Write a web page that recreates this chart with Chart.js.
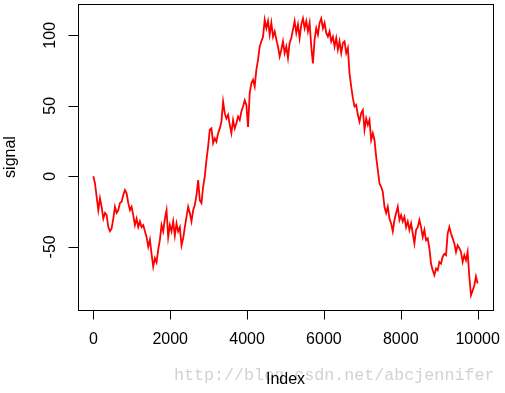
<!DOCTYPE html>
<html>
<head>
  <title>signal</title>
  <script src="https://cdn.jsdelivr.net/npm/chart.js"></script>
  <style>
    body{
        margin:0px;
        padding:0px;
        background-color:white;
    }
    #chart{
        display:block;
    }
  </style>
</head>
<body>
<canvas id="chart" width="505" height="393"></canvas>
<script>
    // values, one sample roughly every 43 index steps (0 .. 10000)
    var signal = [
      0, -5, -14.5, -24, -15.5, -21.6, -30, -26, -27.5, -36,
      -39, -37, -30, -21.6, -26, -24, -19, -18, -13.3, -9.7,
      -12, -19, -24, -21.6, -27.5, -34.6, -30, -36, -32, -36,
      -34.6, -39, -43, -50, -45, -55, -64, -58, -61, -52,
      -45, -34.6, -39, -30, -24, -43, -34.6, -39, -32, -42,
      -33.4, -39, -36, -49, -44,
      -36, -28.7, -21.6, -26, -32, -24, -20.4, -13.3, -2.6, -17,
      -19, -7.4, 0, 11.6, 21, 33, 34, 23.5, 27, 24.6,
      30.6, 34, 38.8, 53, 44.8, 41, 43.6, 36.5, 30.6, 40,
      34, 37.7, 42.4, 40, 46, 49.5, 54, 50.7, 35, 59,
      66, 68.5,
      63.7, 75.6, 82.7, 92, 95.7, 99, 111, 105, 110, 100.5,
      108.8, 99, 102.8, 97, 92, 85, 89.8, 95.7, 87.4, 92,
      84, 94.6, 98, 104, 110, 101.7, 107.6, 98, 107.6, 112,
      105, 110, 102.8, 108.8, 92, 80, 97, 105, 100.5, 108.8,
      112, 105, 108.8, 101.7, 99, 102.8, 95.7, 99, 92, 98,
      89.8, 95.7, 87.4, 94.6, 95.7, 87.4, 91,
      73, 63.7, 55.4, 49.5, 50.7, 43.6, 38.8, 44.8, 47, 33,
      41, 36.5, 40, 25.8, 30.6, 25.8, 14, 4.5, -5, -7.4,
      -11, -21.6, -26, -21.6, -30, -33.4, -39, -31, -26, -21.6,
      -31, -27.5, -32, -28.7, -36, -32, -38, -33.4, -40.5, -47.6,
      -38, -36,
      -31, -36, -43, -38, -45.3, -44, -51, -62, -66.6, -70,
      -65.4, -66.6, -60.7, -62, -57, -55, -56, -40.5, -36, -40.5,
      -44, -47.6, -53.6, -49, -51, -53.6, -60.7, -56, -59.5, -53.6,
      -71, -84.4, -81, -77.4, -71, -76
    ];
    var lastIndex = 10000;
    var xTicks = [0, 2000, 4000, 6000, 8000, 10000];
    var yTicks = [-50, 0, 50, 100];
    var xTitle = 'Index';
    var yTitle = 'signal';
    var watermark = 'http://blog.csdn.net/abcjennifer';

    var step = lastIndex / (signal.length - 1);
    var points = signal.map(function(v, i){ return {x: i * step, y: v}; });

    // R style box, ticks and labels
    var rAxes = {
      id: 'rAxes',
      afterDraw: function(chart){
        var ctx = chart.ctx;
        var a = chart.chartArea;
        var xs = chart.scales.x, ys = chart.scales.y;
        ctx.save();
        ctx.strokeStyle = 'black';
        ctx.lineWidth = 1;
        ctx.strokeRect(Math.round(a.left) + 0.5, Math.round(a.top) + 0.5,
                       Math.round(a.right - a.left), Math.round(a.bottom - a.top));
        ctx.fillStyle = 'black';
        ctx.font = '16px "Liberation Sans", Arial, sans-serif';

        // x ticks
        var yb = Math.round(a.bottom) + 0.5;
        ctx.beginPath();
        xTicks.forEach(function(t){
          var px = Math.round(xs.getPixelForValue(t)) + 0.5;
          ctx.moveTo(px, yb); ctx.lineTo(px, yb + 9);
        });
        ctx.stroke();
        ctx.textAlign = 'center';
        ctx.textBaseline = 'alphabetic';
        xTicks.forEach(function(t){
          ctx.fillText(String(t), xs.getPixelForValue(t), 344);
        });

        // y ticks
        var xl = Math.round(a.left) + 0.5;
        ctx.beginPath();
        yTicks.forEach(function(t){
          var py = Math.round(ys.getPixelForValue(t)) + 0.5;
          ctx.moveTo(xl, py); ctx.lineTo(xl - 10, py);
        });
        ctx.stroke();
        yTicks.forEach(function(t){
          ctx.save();
          ctx.translate(54.5, ys.getPixelForValue(t));
          ctx.rotate(-Math.PI / 2);
          ctx.fillText(String(t), 0, 0);
          ctx.restore();
        });

        // watermark
        ctx.fillStyle = '#d2d2d2';
        ctx.font = '16.7px "Liberation Mono", monospace';
        ctx.textAlign = 'left';
        ctx.fillText(watermark, 174, 380);

        // titles
        ctx.fillStyle = 'black';
        ctx.font = '16px "Liberation Sans", Arial, sans-serif';
        ctx.textAlign = 'center';
        ctx.fillText(xTitle, (a.left + a.right) / 2, 384);
        ctx.save();
        ctx.translate(14.5, (a.top + a.bottom) / 2);
        ctx.rotate(-Math.PI / 2);
        ctx.fillText(yTitle, 0, 0);
        ctx.restore();
        ctx.restore();
      }
    };

    var ctx = document.getElementById('chart').getContext('2d');
    var chart = new Chart(ctx, {
      type: 'line',
      data: {
        datasets: [{
          data: points,
          borderColor: '#ff0000',
          backgroundColor: '#ff0000',
          borderWidth: 1.8,
          pointRadius: 0,
          fill: false,
          tension: 0
        }]
      },
      options: {
        responsive: false,
        animation: false,
        layout: {
          padding: {left: 78, right: 12, top: 4, bottom: 83}
        },
        plugins: {
          legend: {display: false},
          tooltip: {enabled: false}
        },
        scales: {
          x: {type: 'linear', display: false, min: -399, max: 10400},
          y: {type: 'linear', display: false, min: -94.8, max: 122.2}
        }
      },
      plugins: [rAxes]
    });
</script>
</body>
</html>
